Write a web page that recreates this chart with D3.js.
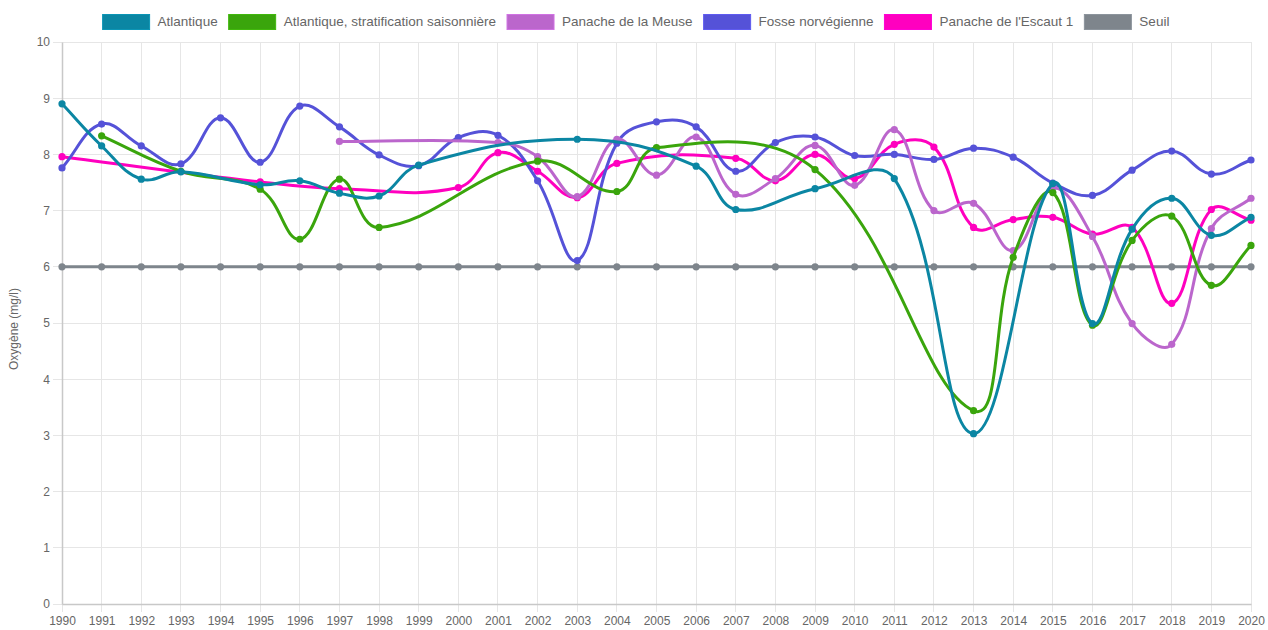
<!DOCTYPE html>
<html>
<head>
<meta charset="utf-8">
<script src="https://cdn.jsdelivr.net/npm/d3@7"></script>
<style>
  html, body { margin: 0; padding: 0; background: #fff; }
  svg { display: block; font-family: "Liberation Sans", Arial, Helvetica, sans-serif; }
</style>
</head>
<body>
<script>
// ---------- DATA ----------
const years = [1990, 1991, 1992, 1993, 1994, 1995, 1996, 1997, 1998, 1999,
               2000, 2001, 2002, 2003, 2004, 2005, 2006, 2007, 2008, 2009,
               2010, 2011, 2012, 2013, 2014, 2015, 2016, 2017, 2018, 2019, 2020];

const atlantique = [8.9, 8.15, 7.56, 7.69, null, 7.46, 7.53, 7.31, 7.26, 7.81,
                    null, null, null, 8.27, null, null, 7.79, 7.02, null, 7.39,
                    null, 7.57, null, 3.03, null, 7.48, 4.99, 6.67, 7.22, 6.56, 6.88];

const atlantiqueStrat = [null, 8.33, null, 7.7, null, 7.38, 6.49, 7.56, 6.70, null,
                         null, null, 7.88, null, 7.34, 8.12, null, null, null, 7.73,
                         null, null, null, 3.44, 6.17, 7.32, 4.96, 6.47, 6.9, 5.67, 6.38];

const panacheMeuse = [null, null, null, null, null, null, null, 8.23, null, null,
                      null, 8.21, 7.96, 7.25, 8.27, 7.63, 8.31, 7.29, 7.57, 8.16,
                      7.45, 8.44, 7.0, 7.13, 6.29, 7.4, 6.54, 4.99, 4.62, 6.68, 7.22];

const fosseNorvegienne = [7.76, 8.54, 8.15, 7.83, 8.65, 7.86, 8.86, 8.49, 7.99, 7.8,
                          8.3, 8.34, 7.53, 6.11, 8.2, 8.58, 8.49, 7.70, 8.21, 8.31,
                          7.98, 8.0, 7.91, 8.11, 7.95, 7.49, 7.27, 7.72, 8.06, 7.65, 7.9];

const panacheEscaut = [7.96, null, null, null, null, 7.51, null, 7.39, null, null,
                       7.41, 8.03, 7.70, 7.23, 7.84, null, null, 7.93, 7.53, 8.0,
                       7.57, 8.18, 8.13, 6.7, 6.84, 6.88, 6.58, 6.7, 5.35, 7.02, 6.83];

const seuil = [6, 6, 6, 6, 6, 6, 6, 6, 6, 6, 6, 6, 6, 6, 6, 6,
               6, 6, 6, 6, 6, 6, 6, 6, 6, 6, 6, 6, 6, 6, 6];

const seriesNames = ["Atlantique", "Atlantique, stratification saisonnière", "Panache de la Meuse",
                     "Fosse norvégienne", "Panache de l'Escaut 1", "Seuil"];
const seriesColors = ["#0b86a3", "#3aa50c", "#bb66cc", "#5552d8", "#ff00bf", "#7e858c"];
const seriesValues = [atlantique, atlantiqueStrat, panacheMeuse, fosseNorvegienne, panacheEscaut, seuil];

const yTicks = [0, 1, 2, 3, 4, 5, 6, 7, 8, 9, 10];
const yTitle = "Oxygène (mg/l)";

// ---------- LAYOUT ----------
const W = 1268, H = 630;
const pL = 62, pR = 1251, pT = 42, pB = 604;

const svg = d3.select("body").append("svg").attr("width", W).attr("height", H);

const x = d3.scaleLinear().domain([years[0], years[years.length - 1]]).range([pL, pR]);
const y = d3.scaleLinear().domain([0, 10]).range([pB, pT]);

// ---------- GRID ----------
const grid = svg.append("g");
grid.selectAll("line.v").data(years).join("line").attr("class", "v")
  .attr("x1", d => x(d)).attr("x2", d => x(d))
  .attr("y1", pT).attr("y2", pB + 8)
  .attr("stroke", "#e6e6e6").attr("stroke-width", 1).attr("shape-rendering", "crispEdges");
grid.selectAll("line.h").data(yTicks).join("line").attr("class", "h")
  .attr("x1", pL - 9).attr("x2", pR)
  .attr("y1", d => y(d)).attr("y2", d => y(d))
  .attr("stroke", "#e6e6e6").attr("stroke-width", 1).attr("shape-rendering", "crispEdges");

// ---------- AXES ----------
const yAxis = svg.append("g").attr("transform", `translate(${pL},0)`)
  .call(d3.axisLeft(y).tickValues(yTicks).tickSize(0).tickPadding(12).tickFormat(d3.format("d")));
yAxis.select(".domain").attr("stroke", "#c8c8c8").attr("stroke-width", 1.5);
yAxis.selectAll("text").attr("fill", "#666").style("font-size", "12px")
  .style("font-family", "'Liberation Sans', Arial, sans-serif");

const xAxis = svg.append("g").attr("transform", `translate(0,${pB})`)
  .call(d3.axisBottom(x).tickValues(years).tickSize(0).tickPadding(12).tickFormat(d3.format("d")));
xAxis.select(".domain").attr("stroke", "#c8c8c8").attr("stroke-width", 1.5);
xAxis.selectAll("text").attr("fill", "#666").style("font-size", "12px")
  .style("font-family", "'Liberation Sans', Arial, sans-serif");

svg.append("text")
  .attr("transform", `translate(15,329) rotate(-90)`)
  .attr("text-anchor", "middle").attr("dominant-baseline", "middle")
  .attr("fill", "#666").style("font-size", "12px")
  .text(yTitle);

// ---------- Chart.js-like spline curve ----------
function ChartSpline(context, tension) { this._context = context; this._t = tension; }
ChartSpline.prototype = {
  areaStart() { this._line = 0; },
  areaEnd() { this._line = NaN; },
  lineStart() { this._pts = []; },
  point(px, py) { this._pts.push([+px, +py]); },
  lineEnd() {
    const p = this._pts, n = p.length, c = this._context, t = this._t;
    if (!n) return;
    const cpPrev = [], cpNext = [];
    const cap = (v, lo, hi) => Math.max(lo, Math.min(hi, v));
    for (let i = 0; i < n; i++) {
      const prev = p[i - 1] || p[i], cur = p[i], next = p[i + 1] || p[i];
      const d01 = Math.hypot(cur[0] - prev[0], cur[1] - prev[1]);
      const d12 = Math.hypot(next[0] - cur[0], next[1] - cur[1]);
      let s01 = d01 / (d01 + d12), s12 = d12 / (d01 + d12);
      if (isNaN(s01)) s01 = 0;
      if (isNaN(s12)) s12 = 0;
      const fa = t * s01, fb = t * s12;
      cpPrev[i] = [cap(cur[0] - fa * (next[0] - prev[0]), pL, pR), cap(cur[1] - fa * (next[1] - prev[1]), pT, pB)];
      cpNext[i] = [cap(cur[0] + fb * (next[0] - prev[0]), pL, pR), cap(cur[1] + fb * (next[1] - prev[1]), pT, pB)];
    }
    c.moveTo(p[0][0], p[0][1]);
    for (let i = 1; i < n; i++) {
      c.bezierCurveTo(cpNext[i - 1][0], cpNext[i - 1][1], cpPrev[i][0], cpPrev[i][1], p[i][0], p[i][1]);
    }
  }
};
const curveChartJs = ctx => new ChartSpline(ctx, 0.4);

const lineGen = d3.line().x(d => x(d.year)).y(d => y(d.v)).curve(curveChartJs);

// ---------- SERIES (last dataset drawn first, like Chart.js) ----------
const plot = svg.append("g");
for (let s = seriesValues.length - 1; s >= 0; s--) {
  const pts = years.map((yr, i) => ({ year: yr, v: seriesValues[s][i] })).filter(d => d.v != null);
  const g = plot.append("g");
  g.append("path").datum(pts).attr("d", lineGen)
    .attr("fill", "none").attr("stroke", seriesColors[s]).attr("stroke-width", 3)
    .attr("stroke-linejoin", "round").attr("stroke-linecap", "round");
  g.selectAll("circle").data(pts).join("circle")
    .attr("cx", d => x(d.year)).attr("cy", d => y(d.v)).attr("r", 3.6)
    .attr("fill", seriesColors[s]);
}

// ---------- LEGEND ----------
const legend = svg.append("g");
const boxW = 47, boxH = 15, gapBoxText = 8, gapItems = 11, legY = 22;
const items = seriesNames.map((name, i) => {
  const g = legend.append("g");
  g.append("rect").attr("width", boxW).attr("height", boxH).attr("y", legY - boxH / 2)
    .attr("fill", seriesColors[i]).attr("stroke", d3.color(seriesColors[i]).brighter(0.3)).attr("stroke-width", 1);
  const txt = g.append("text").attr("x", boxW + gapBoxText).attr("y", legY)
    .attr("dominant-baseline", "middle").attr("fill", "#666").style("font-size", "13.5px").text(name);
  return { g, w: boxW + gapBoxText + txt.node().getComputedTextLength() };
});
const totalW = d3.sum(items, d => d.w) + gapItems * (items.length - 1);
let legX = 636 - totalW / 2;
items.forEach(it => { it.g.attr("transform", `translate(${legX},0)`); legX += it.w + gapItems; });
</script>
</body>
</html>
